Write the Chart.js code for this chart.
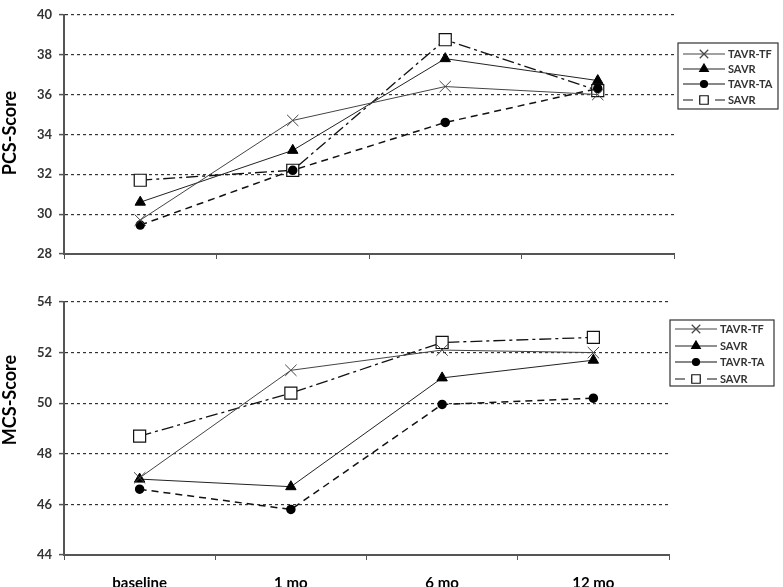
<!DOCTYPE html>
<html lang="en">
<head>
<meta charset="UTF-8" />
<title>PCS / MCS Score</title>
<script src="https://cdn.jsdelivr.net/npm/chart.js"></script>
<style>
    body { margin: 0; background: #fff; }
    .painel { position: absolute; left: 0; width: 783px; }
    #topo { top: 0; height: 275px; }
    #baixo { top: 275px; height: 312px; }
</style>
</head>
<body>
<div class="painel" id="topo"><canvas id="graficoPCS"></canvas></div>
<div class="painel" id="baixo"><canvas id="graficoMCS"></canvas></div>
<script>
    // dados
    const momentos = ['baseline', '1 mo', '6 mo', '12 mo'];
    const nomes = ['TAVR-TF', 'SAVR', 'TAVR-TA', 'SAVR'];

    const pcsTavrTF = [29.7, 34.7, 36.4, 36.0];
    const pcsSavr1 = [30.6, 33.2, 37.8, 36.7];
    const pcsTavrTA = [29.45, 32.2, 34.6, 36.3];
    const pcsSavr2 = [31.7, 32.2, 38.75, 36.2];

    const mcsTavrTF = [47.05, 51.3, 52.1, 52.0];
    const mcsSavr1 = [47.0, 46.7, 51.0, 51.7];
    const mcsTavrTA = [46.6, 45.8, 49.95, 50.2];
    const mcsSavr2 = [48.7, 50.4, 52.4, 52.6];

    const pcsTicks = [28, 30, 32, 34, 36, 38, 40];
    const mcsTicks = [44, 46, 48, 50, 52, 54];

    const fonte = 'Lato, "DejaVu Sans", sans-serif';

    function series(valores) {
        return [
            { label: nomes[0], data: valores[0], borderColor: '#444', borderWidth: 1,
              pointStyle: 'crossRot', pointRadius: 8, pointBorderWidth: 1,
              pointBorderColor: '#444', pointBackgroundColor: '#444', legRaio: 6, legDash: [] },
            { label: nomes[1], data: valores[1], borderColor: '#222', borderWidth: 1,
              pointStyle: 'triangle', pointRadius: 6, pointBorderWidth: 1,
              pointBorderColor: '#000', pointBackgroundColor: '#000', legRaio: 5, legDash: [] },
            { label: nomes[2], data: valores[2], borderColor: '#111', borderWidth: 1.5,
              borderDash: [7, 5], pointStyle: 'circle', pointRadius: 4,
              pointBorderColor: '#000', pointBackgroundColor: '#000', legRaio: 3.5, legDash: [] },
            { label: nomes[3], data: valores[3], borderColor: '#111', borderWidth: 1.3,
              borderDash: [12, 4, 3, 4], pointStyle: 'rect', pointRadius: 8.5,
              pointBorderWidth: 1.2, pointBorderColor: '#111', pointBackgroundColor: '#fff',
              legRaio: 6, legDash: [10, 6] }
        ];
    }

    // legenda e título do eixo desenhados à mão
    const legendaPlugin = {
        id: 'legendaCaixa',
        afterDraw(chart, args, opts) {
            const ctx = chart.ctx;
            ctx.save();
            ctx.translate(opts.tituloX, opts.tituloY);
            ctx.rotate(-Math.PI / 2);
            ctx.font = 'bold 18px ' + fonte;
            ctx.fillStyle = '#000';
            ctx.textAlign = 'center';
            ctx.textBaseline = 'middle';
            ctx.fillText(opts.titulo, 0, 0);
            ctx.restore();

            ctx.save();
            ctx.fillStyle = '#fff';
            ctx.fillRect(opts.x, opts.y, opts.w, opts.h);
            ctx.strokeStyle = '#333';
            ctx.lineWidth = 1.2;
            ctx.strokeRect(opts.x, opts.y, opts.w, opts.h);
            ctx.font = 'bold 11px ' + fonte;
            ctx.textBaseline = 'middle';
            chart.data.datasets.forEach((ds, i) => {
                const y = opts.linhas[i];
                ctx.strokeStyle = ds.borderColor;
                ctx.lineWidth = 1.2;
                ctx.setLineDash(ds.legDash);
                ctx.beginPath();
                ctx.moveTo(opts.x1, y);
                ctx.lineTo(opts.x2, y);
                ctx.stroke();
                ctx.setLineDash([]);
                ctx.fillStyle = ds.pointBackgroundColor;
                ctx.strokeStyle = ds.pointBorderColor;
                Chart.helpers.drawPoint(ctx, {
                    pointStyle: ds.pointStyle,
                    radius: ds.legRaio,
                    borderWidth: ds.pointBorderWidth || 1,
                    rotation: 0
                }, (opts.x1 + opts.x2) / 2, y);
                ctx.fillStyle = '#333';
                ctx.fillText(ds.label, opts.x2 + 3, y);
            });
            ctx.restore();
        }
    };

    function opcoes(ticksY, alturaX, mostrarX, padTopo, padDir, legenda) {
        const minimo = ticksY[0];
        return {
            responsive: true,
            maintainAspectRatio: false,
            animation: false,
            layout: { padding: { top: padTopo, right: padDir, left: 0, bottom: 0 } },
            plugins: { legend: { display: false }, tooltip: { enabled: false }, legendaCaixa: legenda },
            scales: {
                x: {
                    offset: true,
                    grid: { offset: true, drawOnChartArea: false, tickLength: 5, tickColor: '#555', tickWidth: 1 },
                    border: { color: '#555', width: 2 },
                    ticks: { display: mostrarX, padding: 14, color: '#000', font: { family: fonte, size: 15, weight: 'bold' } },
                    afterFit: s => { s.height = alturaX; }
                },
                y: {
                    min: ticksY[0],
                    max: ticksY[ticksY.length - 1],
                    afterBuildTicks: s => { s.ticks = ticksY.map(v => ({ value: v })); },
                    grid: {
                        color: c => c.tick && c.tick.value === minimo ? 'rgba(0,0,0,0)' : '#333',
                        lineWidth: 1.2, tickLength: 5, tickColor: '#555', tickWidth: 1.5
                    },
                    border: { color: '#555', width: 2, dash: [3, 3] },
                    ticks: { padding: 7, color: '#333', font: { family: fonte, size: 13, weight: 'bold' } },
                    afterFit: s => { s.width = 64; }
                }
            }
        };
    }

    Chart.defaults.elements.line.tension = 0;
    Chart.defaults.datasets.line.clip = false;

    new Chart(document.getElementById('graficoPCS'), {
        type: 'line',
        data: { labels: momentos, datasets: series([pcsTavrTF, pcsSavr1, pcsTavrTA, pcsSavr2]) },
        options: opcoes(pcsTicks, 21, false, 4, 109, {
            titulo: 'PCS-Score', tituloX: 10, tituloY: 133,
            x: 678, y: 43, w: 100, h: 66, x1: 683, x2: 725, linhas: [54, 69, 84, 100]
        }),
        plugins: [legendaPlugin]
    });

    new Chart(document.getElementById('graficoMCS'), {
        type: 'line',
        data: { labels: momentos, datasets: series([mcsTavrTF, mcsSavr1, mcsTavrTA, mcsSavr2]) },
        options: opcoes(mcsTicks, 32, true, 27, 114, {
            titulo: 'MCS-Score', tituloX: 10, tituloY: 125,
            x: 670, y: 45, w: 104, h: 66, x1: 675, x2: 717, linhas: [54, 71, 87, 104]
        }),
        plugins: [legendaPlugin]
    });
</script>
</body>
</html>
